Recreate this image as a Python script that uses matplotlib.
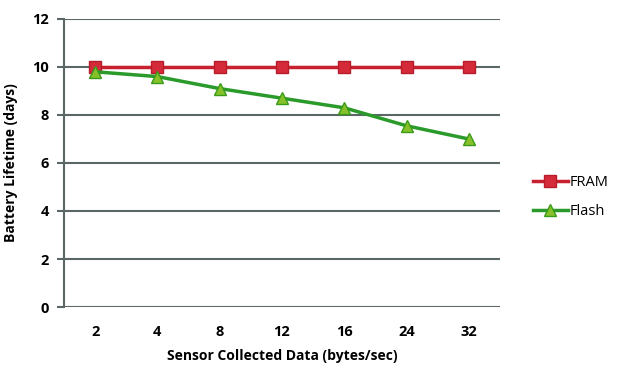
import matplotlib
matplotlib.use("Agg")
import matplotlib.pyplot as plt

categories = ["2", "4", "8", "12", "16", "24", "32"]
fram = [10, 10, 10, 10, 10, 10, 10]
flash = [9.8, 9.6, 9.1, 8.7, 8.3, 7.55, 7.0]
yticks = [0, 2, 4, 6, 8, 10, 12]

plt.rcParams['font.family'] = ['Open Sans', 'DejaVu Sans']

fig = plt.figure(figsize=(6.3, 3.76), dpi=100)
ax = fig.add_axes([0.1016, 0.1835, 0.692, 0.766])

x = list(range(len(categories)))
grid_c = "#5b6666"
for v in yticks:
    ax.axhline(v, color=grid_c, lw=1.5, zorder=1)

ax.plot(x, fram, color="#c8202e", lw=2.5, marker="s", ms=9,
        mfc="#d42a3a", mec="#b81c2a", label="FRAM", zorder=3)
ax.plot(x, flash, color="#2a9a2a", lw=2.5, marker="^", ms=9,
        mfc="#86c12a", mec="#3a9a1a", label="Flash", zorder=3)

ax.set_xlim(-0.5, len(categories) - 0.5)
ax.set_ylim(0, 12)
ax.set_xticks(x)
ax.set_xticklabels(categories, fontsize=10.5, fontweight="bold")
ax.set_yticks(yticks)
ax.set_yticklabels([str(v) for v in yticks], fontsize=10.5, fontweight="bold")
ax.tick_params(axis="x", length=0, pad=13)
ax.tick_params(axis="y", length=5, width=1.5, color=grid_c, pad=6)
for s in ["top", "right", "bottom"]:
    ax.spines[s].set_visible(False)
ax.spines["left"].set_color(grid_c)
ax.spines["left"].set_linewidth(1.5)

ax.set_xlabel("Sensor Collected Data (bytes/sec)", fontsize=10, fontweight="bold", labelpad=7)
ax.set_ylabel("Battery Lifetime (days)", fontsize=10, fontweight="bold", labelpad=10)

leg = fig.legend(loc="upper left", bbox_to_anchor=(0.825, 0.57), frameon=False,
                 fontsize=10.5, handlelength=2.4, handletextpad=0.1, labelspacing=1.0)

fig.savefig("out.png", dpi=100)
